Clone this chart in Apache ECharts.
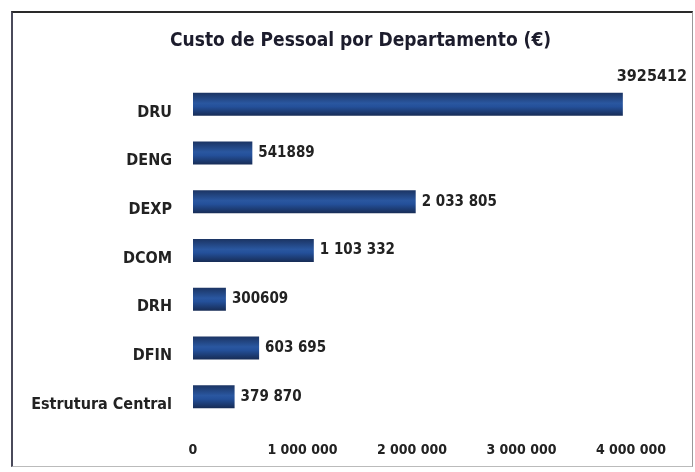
<!DOCTYPE html>
<html>
<head>
<meta charset="utf-8">
<script src="https://cdn.jsdelivr.net/npm/echarts@6/dist/echarts.min.js"></script>
<style>
html,body{margin:0;padding:0;background:#fff;}
#frame{position:absolute;left:11px;top:11px;width:682px;height:456px;border-left:2px solid #4a4a5a;border-top:2px solid #2a2a2a;border-right:1px solid #999;border-bottom:1px solid #bbb;box-sizing:border-box;}
#chart{position:absolute;left:0;top:0;width:695px;height:472px;}
</style>
</head>
<body>
<div id="frame"></div>
<div id="chart"></div>
<script>
const categories = ["Estrutura Central", "DFIN", "DRH", "DCOM", "DEXP", "DENG", "DRU"];
const values = [379870, 603695, 300609, 1103332, 2033805, 541889, 3925412];
const labelTexts = ["379 870", "603 695", "300609", "1 103 332", "2 033 805", "541889", "3925412"];
const xTicks = [0, 1000000, 2000000, 3000000, 4000000];
const xTickLabels = ["0", "1 000 000", "2 000 000", "3 000 000", "4 000 000"];

const FONT = '"DejaVu Sans Condensed","Liberation Sans Narrow","Liberation Sans",sans-serif';
const chart = echarts.init(document.getElementById('chart'));
const barColor = new echarts.graphic.LinearGradient(0,0,0,1,[
  {offset:0,color:'#1b3463'},{offset:0.45,color:'#2a57a0'},{offset:0.6,color:'#24509a'},{offset:1,color:'#172c55'}
]);
chart.setOption({
  animation:false,
  title:{text:'Custo de Pessoal por Departamento (€)',left:165,top:27,
    textStyle:{fontFamily:FONT,fontWeight:'bold',fontSize:19,color:'#1c1c2c'}},
  grid:{left:193,right:64,top:80,bottom:51},
  xAxis:{type:'value',min:0,max:4000000,interval:1000000,
    axisLine:{show:false},axisTick:{show:false},splitLine:{show:false},
    axisLabel:{margin:22,fontFamily:FONT,fontWeight:'bold',fontSize:14,color:'#222',
      formatter:function(v){const i=xTicks.indexOf(v);return i>=0?xTickLabels[i]:'';}}},
  yAxis:{type:'category',data:categories,
    axisLine:{show:false},axisTick:{show:false},
    axisLabel:{margin:21,fontFamily:FONT,fontWeight:'bold',fontSize:16,color:'#222',verticalAlign:'top'}},
  series:[{type:'bar',barWidth:23,
    data:values.map(function(v,i){
      const d={value:v};
      if(i===values.length-1){d.label={offset:[-12,-28],fontSize:16};}
      return d;
    }),
    itemStyle:{color:barColor},
    label:{show:true,position:'right',distance:6,fontFamily:FONT,fontWeight:'bold',fontSize:15,color:'#222',
      formatter:function(p){return labelTexts[p.dataIndex];}}
  }]
});
</script>
</body>
</html>
